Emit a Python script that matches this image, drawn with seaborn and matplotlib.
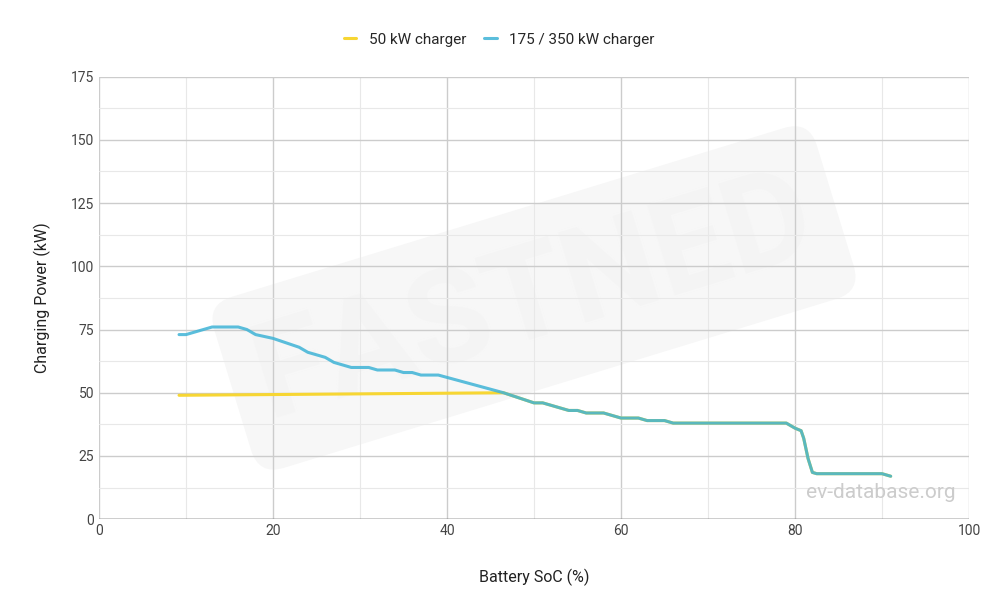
import matplotlib
matplotlib.use("Agg")
import matplotlib.pyplot as plt
import seaborn as sns
import pandas as pd

soc_fast = [9.2, 10, 13, 16, 17, 18, 20, 23, 24, 26, 27, 29, 31, 32, 34, 35, 36, 37, 39, 46.5, 50, 51, 54, 55, 56, 58, 60, 62, 63, 65, 66, 78, 79, 80, 80.7, 81, 81.5, 82, 82.5, 90, 91]
pw_fast = [73, 73, 76, 76, 75, 73, 71.5, 68, 66, 64, 62, 60, 60, 59, 59, 58, 58, 57, 57, 50, 46, 46, 43, 43, 42, 42, 40, 40, 39, 39, 38, 38, 38, 36, 35, 32, 24, 18.5, 18, 18, 17]
soc_50 = [9.2, 46.5] + soc_fast[20:]
pw_50 = [49, 50] + pw_fast[20:]

sns.set_theme(style="whitegrid")
plt.rcParams['font.family'] = ['Roboto', 'DejaVu Sans']
fig, ax = plt.subplots(figsize=(10, 6.13), dpi=100)
fig.subplots_adjust(left=0.099, right=0.969, top=0.875, bottom=0.153)

sns.lineplot(x=soc_50, y=pw_50, ax=ax, color="#f7d633", lw=2.2, label="50 kW charger", sort=False)
sns.lineplot(x=soc_fast, y=pw_fast, ax=ax, color="#3eb3d6", lw=2.2, alpha=0.85, label="175 / 350 kW charger", sort=False)

ax.set_xlim(0, 100); ax.set_ylim(0, 175)
ax.set_xticks(range(0, 101, 20)); ax.set_yticks(range(0, 176, 25))
ax.set_xticks(range(10, 100, 20), minor=True); ax.set_yticks([12.5 + 25*i for i in range(7)], minor=True)
ax.grid(True, which='major', color="#cccccc", lw=1)
ax.grid(True, which='minor', color="#e8e8e8", lw=0.8)
for s in ax.spines.values(): s.set_visible(False)
ax.axhline(0, color="#333333", lw=1)
ax.tick_params(labelsize=10, colors="#444444", length=0)
ax.set_xlabel("Battery SoC (%)", fontsize=11.5, color="#222222", labelpad=22)
ax.set_ylabel("Charging Power (kW)", fontsize=11.5, color="#222222", labelpad=14)
ax.text(0.985, 0.04, "ev-database.org", transform=ax.transAxes, ha="right", va="bottom", fontsize=15, color="#cccccc")
ax.text(0.5, 0.5, "FASTNED", transform=ax.transAxes, ha="center", va="center", fontsize=95, color="#f4f4f4", rotation=17, zorder=0, fontweight="bold",
        bbox=dict(boxstyle="round,pad=0.2", fc="#f7f7f7", ec="none"))
ax.legend(loc="upper center", bbox_to_anchor=(0.46, 1.13), ncol=2, frameon=False, fontsize=11, handlelength=0.8, columnspacing=1.2)
fig.savefig("out.png")
